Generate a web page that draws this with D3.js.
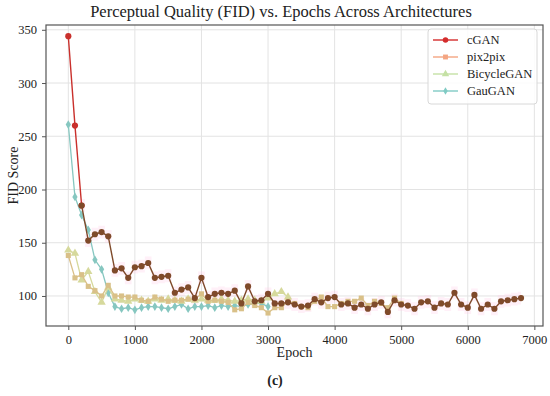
<!DOCTYPE html>
<html>
<head>
<meta charset="utf-8">
<script src="https://cdn.jsdelivr.net/npm/d3@7"></script>
<style>
  body { margin: 0; background: #fff; }
  text { font-family: "Liberation Serif", "DejaVu Serif", serif; fill: #222; }
</style>
</head>
<body>
<div id="chart"></div>
<script>
// data, epochs every 100
var cganFid = [344, 260, 185, 152, 158, 160, 156, 124, 126, 117, 127, 128, 131, 117, 118, 119, 103, 106, 108, 98,
  117, 99, 102, 103, 102, 105, 93, 109, 95, 96, 102, 93, 93, 94, 92, 90, 91, 97, 94, 98,
  99, 92, 93, 89, 92, 88, 92, 94, 85, 96, 92, 91, 88, 94, 95, 89, 93, 92, 103, 92,
  89, 101, 88, 92, 88, 95, 96, 97, 98];
var pix2pixFid = [138, 117, 120, 109, 105, 100, 110, 100, 100, 99, 99, 96, 95, 99, 97, 95, 96, 96, 97, 97,
  102, 95, 96, 95, 94, 87, 88, 94, 91, 89, 84, 89, 89, 95, 93, 90, 89, 95, 99, 90,
  90, 93, 95, 95, 98, 91, 95, 93, 89, 98, 93];
var bicycleFid = [143, 140, 115, 123, 104, 94, 108, 97, 96, 95, 97, 96, 95, 97, 96, 97, 96, 95, 97, 96,
  97, 96, 96, 97, 96, 95, 96, 97, 96, 95, 98, 102, 104, 99];
var gauganFid = [261, 193, 176, 162, 134, 125, 103, 90, 88, 89, 87, 89, 90, 90, 89, 88, 90, 92, 88, 90,
  90, 91, 89, 91, 90, 91, 90, 92, 93, 93, 90];
var epochStep = 100;
var seriesNames = ["cGAN", "pix2pix", "BicycleGAN", "GauGAN"];
var legendColors = ["#d42c2c", "#f4a582", "#c5e1a5", "#80cbc4"];
var xTicks = [0, 1000, 2000, 3000, 4000, 5000, 6000, 7000];
var yTicks = [100, 150, 200, 250, 300, 350];

var svgWidth = 550, svgHeight = 396;
var margin = { top: 25, right: 7, bottom: 70, left: 46 };
var chartWidth = svgWidth - margin.left - margin.right;
var chartHeight = svgHeight - margin.top - margin.bottom;

var svg = d3.select("#chart").append("svg")
  .attr("width", svgWidth)
  .attr("height", svgHeight);

var chartGroup = svg.append("g")
  .attr("transform", `translate(${margin.left}, ${margin.top})`);

var xScale = d3.scaleLinear().domain([-335, 7130]).range([0, chartWidth]);
var yScale = d3.scaleLinear().domain([71.8, 354.5]).range([chartHeight, 0]);

function toPoints(arr) {
  return arr.map((v, i) => ({ x: i * epochStep, y: v }));
}

// grid
chartGroup.append("g").selectAll("line").data(xTicks).enter().append("line")
  .attr("x1", d => xScale(d)).attr("x2", d => xScale(d))
  .attr("y1", 0).attr("y2", chartHeight)
  .attr("stroke", "#e3e3e3").attr("stroke-width", 1);
chartGroup.append("g").selectAll("line").data(yTicks).enter().append("line")
  .attr("y1", d => yScale(d)).attr("y2", d => yScale(d))
  .attr("x1", 0).attr("x2", chartWidth)
  .attr("stroke", "#e3e3e3").attr("stroke-width", 1);

// pink spread band around cGAN
var cganPts = toPoints(cganFid);
var band = d3.area()
  .x(d => xScale(d.x))
  .y0(d => yScale(d.y - 6))
  .y1(d => yScale(d.y + 6))
  .curve(d3.curveStep);
chartGroup.append("path")
  .datum(cganPts.slice(2))
  .attr("d", band)
  .attr("fill", "#ffc4e2")
  .attr("opacity", 0.25);

var line = d3.line().x(d => xScale(d.x)).y(d => yScale(d.y));

function drawSeries(pts, color, shape, size, strokeW) {
  chartGroup.append("path").datum(pts)
    .attr("d", line)
    .attr("fill", "none")
    .attr("stroke", color)
    .attr("stroke-width", strokeW);
  chartGroup.append("g").selectAll("path").data(pts).enter().append("path")
    .attr("transform", d => `translate(${xScale(d.x)},${yScale(d.y)})`)
    .attr("d", d3.symbol().type(shape).size(size))
    .attr("fill", color);
}

var diamondThin = {
  draw: function(ctx, size) {
    var h = Math.sqrt(size) * 0.75, w = h * 0.6;
    ctx.moveTo(0, -h); ctx.lineTo(w, 0); ctx.lineTo(0, h); ctx.lineTo(-w, 0); ctx.closePath();
  }
};

drawSeries(toPoints(gauganFid), "#86c7c0", diamondThin, 34, 1.3);
drawSeries(toPoints(bicycleFid), "#d6d99c", d3.symbolTriangle, 30, 1.3);
drawSeries(toPoints(pix2pixFid), "#d9c088", d3.symbolSquare, 26, 1.3);

// cGAN: first segment red, remainder brownish where the runs overlap
drawSeries(cganPts.slice(0, 3), "#c9302c", d3.symbolCircle, 30, 1.4);
drawSeries(cganPts.slice(2), "#7f4a2a", d3.symbolCircle, 30, 1.4);

// frame
chartGroup.append("rect")
  .attr("width", chartWidth).attr("height", chartHeight)
  .attr("fill", "none").attr("stroke", "#555").attr("stroke-width", 1.2);

// axes
var bottomAxis = d3.axisBottom(xScale).tickValues(xTicks).tickFormat(d3.format("d")).tickSize(4).tickPadding(5);
var leftAxis = d3.axisLeft(yScale).tickValues(yTicks).tickFormat(d3.format("d")).tickSize(4).tickPadding(5);

var gx = chartGroup.append("g")
  .attr("transform", `translate(0, ${chartHeight})`)
  .call(bottomAxis);
var gy = chartGroup.append("g").call(leftAxis);
[gx, gy].forEach(g => {
  g.select(".domain").remove();
  g.selectAll(".tick line").attr("stroke", "#555");
  g.selectAll(".tick text").style("font-family", "Liberation Serif, serif").style("font-size", "12.5px").attr("fill", "#222");
});

// labels
svg.append("text")
  .attr("x", 281)
  .attr("y", 17)
  .style("text-anchor", "middle")
  .style("font-size", "16.5px")
  .text("Perceptual Quality (FID) vs. Epochs Across Architectures");

svg.append("text")
  .attr("x", margin.left + chartWidth / 2)
  .attr("y", 357)
  .style("text-anchor", "middle")
  .style("font-size", "14px")
  .text("Epoch");

svg.append("text")
  .attr("transform", "rotate(-90)")
  .attr("x", -(margin.top + chartHeight / 2))
  .attr("y", 18)
  .style("text-anchor", "middle")
  .style("font-size", "14px")
  .text("FID Score");

svg.append("text")
  .attr("x", 275)
  .attr("y", 385)
  .style("text-anchor", "middle")
  .style("font-size", "14px")
  .style("font-weight", "bold")
  .text("(c)");

// legend
var legend = svg.append("g").attr("transform", "translate(428, 29)");
legend.append("rect")
  .attr("width", 109).attr("height", 75).attr("rx", 3)
  .attr("fill", "#fff").attr("fill-opacity", 0.85)
  .attr("stroke", "#d8d8d8");
var legendShapes = [d3.symbolCircle, d3.symbolSquare, d3.symbolTriangle, diamondThin];
seriesNames.forEach((name, i) => {
  var ly = 11 + i * 17;
  legend.append("line")
    .attr("x1", 5).attr("x2", 30).attr("y1", ly).attr("y2", ly)
    .attr("stroke", legendColors[i]).attr("stroke-width", 1.4);
  legend.append("path")
    .attr("transform", `translate(17.5,${ly})`)
    .attr("d", d3.symbol().type(legendShapes[i]).size(24))
    .attr("fill", legendColors[i]);
  legend.append("text")
    .attr("x", 39).attr("y", ly + 4)
    .style("font-size", "12.5px")
    .text(name);
});
</script>
</body>
</html>
